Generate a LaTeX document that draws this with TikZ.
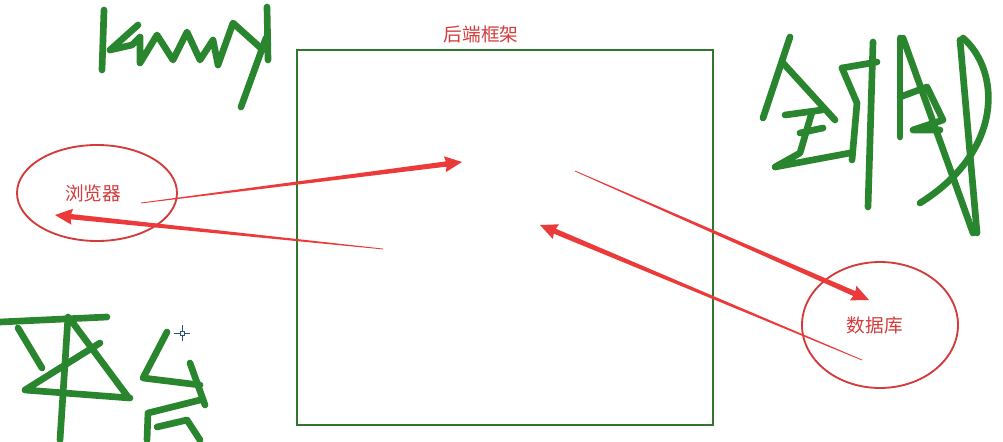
\documentclass[tikz,border=0pt]{standalone}
\usepackage{fontspec}
\newfontfamily\cjk{Noto Sans CJK SC}
\usetikzlibrary{shapes.geometric,calc}

\definecolor{arrowred}{RGB}{236,58,58}
\definecolor{inkred}{RGB}{212,60,60}
\definecolor{boxgreen}{RGB}{48,118,48}
\definecolor{pengreen}{RGB}{42,134,46}
\definecolor{cursorblue}{RGB}{40,80,130}

\tikzset{
  pen/.style={draw=pengreen, line width=5pt, line cap=round, line join=round},
  bubble/.style={draw=inkred, ellipse, line width=1.4pt, inner sep=0pt, text=inkred, font=\cjk\fontsize{14}{16}\selectfont},
}

% thin-to-thick arrow, tail #1, tip #2
\newcommand{\taperarrow}[2]{%
  \fill[arrowred] ($(#1)!0.3pt!90:(#2)$) -- ($(#2)!12pt!(#1)!2pt!-90:(#1)$)
    -- ($(#2)!13pt!(#1)!6pt!-90:(#1)$) -- (#2)
    -- ($(#2)!13pt!(#1)!6pt!90:(#1)$) -- ($(#2)!12pt!(#1)!2pt!90:(#1)$)
    -- ($(#1)!0.3pt!-90:(#2)$) -- cycle;}

\begin{document}
\begin{tikzpicture}[x=0.75pt, y=-0.75pt]
    \fill[white] (0,0) rectangle (1003,442);
    \useasboundingbox (0,0) rectangle (1003,442);

    \node (backend) [draw=boxgreen, line width=1.8pt, rectangle, minimum width=312pt, minimum height=281.25pt] at (505,237.5) {};
    \node (backendlabel) [text=inkred, font=\cjk\fontsize{14}{16}\selectfont] at (481,34) {后端框架};
    \node (browser) [bubble, minimum width=120pt, minimum height=72pt] at (97,193) {\hspace*{-6pt}浏览器};
    \node (database) [bubble, minimum width=117pt, minimum height=94.5pt] at (880,325) {\hspace*{-8pt}数据库};

    % request / response arrows
    \coordinate (b-out) at (141,203);
    \coordinate (f-in) at (462,162);
    \coordinate (f-back) at (383,249);
    \coordinate (b-in) at (55,215);
    \coordinate (f-out) at (575,171);
    \coordinate (d-in) at (869,300);
    \coordinate (d-back) at (862,360);
    \coordinate (f-in2) at (540,225);
    \taperarrow{b-out}{f-in}
    \taperarrow{f-back}{b-in}
    \taperarrow{f-out}{d-in}
    \taperarrow{d-back}{f-in2}

    % handwriting: kenny
    \draw[pen] (104,10) -- (102,70);
    \draw[pen] (138,25) -- (110,50);
    \draw[pen] (110,50) -- (132,45) -- (140,37) -- (140,63) -- (157,35) -- (173,60) -- (187,32) -- (200,60) -- (213,40) -- (218,65) -- (233,23) -- (263,50);
    \draw[pen] (267,7) -- (268,60);
    \draw[pen] (266,38) -- (241,107);

    % handwriting: quan zhan
    \draw[pen] (790,37) -- (763,118);
    \draw[pen] (783,63) -- (835,120);
    \draw[pen] (785,115) -- (822,110);
    \draw[pen] (800,133) -- (823,128);
    \draw[pen] (812,112) -- (800,153) -- (775,167) -- (850,153);
    \draw[pen] (842,68) -- (877,62);
    \draw[pen] (873,42) -- (868,207);
    \draw[pen] (842,68) -- (857,103) -- (852,160);
    \draw[pen] (903,38) -- (973,233);
    \draw[pen] (900,38) -- (900,137);
    \draw[pen] (900,97) -- (927,87) -- (943,120) -- (913,130) -- (940,130);
    \draw[pen] (963,38) .. controls (1000,70) and (1005,150) .. (920,203);
    \draw[pen] (960,40) -- (977,233);

    % handwriting: ping tai
    \draw[pen] (0,322) -- (107,317);
    \draw[pen] (18,328) -- (42,368);
    \draw[pen] (100,343) -- (25,390) -- (130,398);
    \draw[pen] (73,323) -- (128,397);
    \draw[pen] (68,317) -- (60,440);
    \draw[pen] (167,332) -- (143,378) -- (200,385);
    \draw[pen] (190,363) -- (205,405);
    \draw[pen] (147,440) -- (148,413) -- (200,400);
    \draw[pen] (157,427) -- (187,420) -- (200,440);

    % cursor
    \draw[cursorblue, line width=0.6pt] (174,333) -- (190,333) (182,325) -- (182,341);
    \draw[cursorblue, fill=white, line width=0.5pt] (180,331) rectangle (184,335);
\end{tikzpicture}
\end{document}
